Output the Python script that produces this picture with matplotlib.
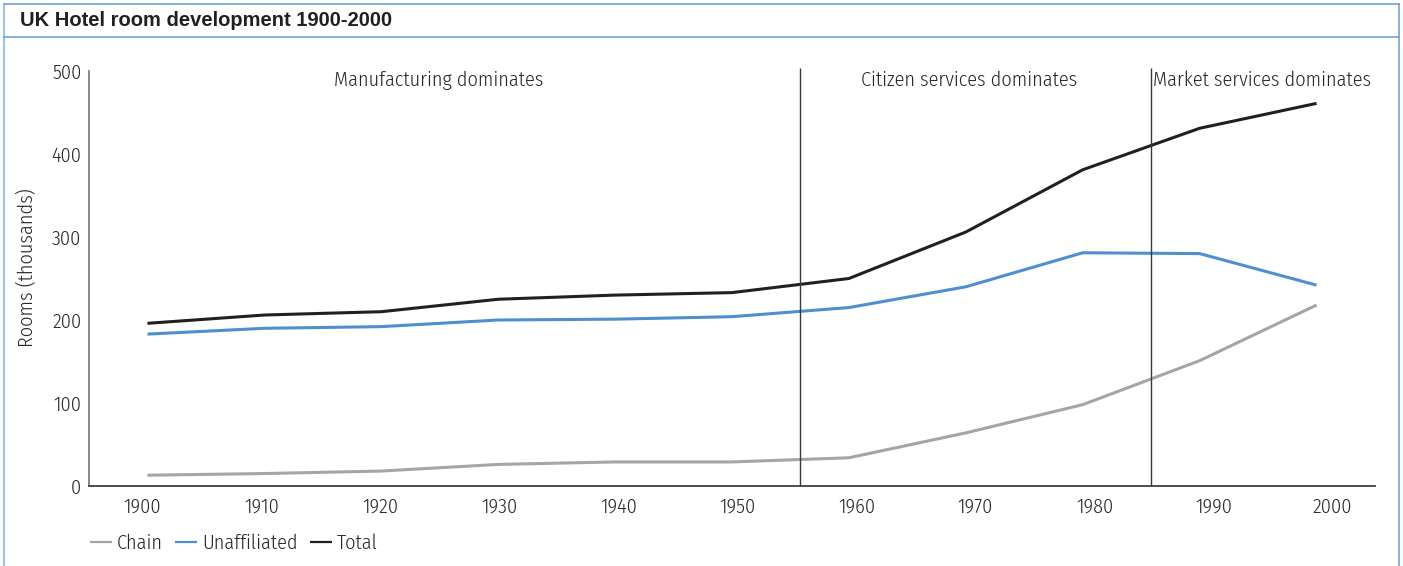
import matplotlib
matplotlib.use("Agg")
import matplotlib.pyplot as plt
from matplotlib.lines import Line2D
from matplotlib import font_manager

years = [1900, 1910, 1920, 1930, 1940, 1950, 1960, 1970, 1980, 1990, 2000]
chain = [13, 15, 18, 26, 29, 29, 34, 64, 98, 151, 218]
unaffiliated = [183, 190, 192, 200, 201, 204, 215, 240, 281, 280, 242]
total = [196, 206, 210, 225, 230, 233, 250, 306, 381, 431, 461]
era_breaks = [1955.8, 1985.8]
era_labels = ["Manufacturing dominates", "Citizen services dominates", "Market services dominates"]
era_label_x = [1924.9, 1970.3, 1995.3]
yticks = [0, 100, 200, 300, 400, 500]
title = "UK Hotel room development 1900-2000"
ylabel = "Rooms (thousands)"


def _w(v):
    if isinstance(v, str):
        return font_manager.weight_dict.get(v, 400)
    return int(v)


faces = {}
for f in font_manager.fontManager.ttflist:
    if f.style == "normal":
        faces.setdefault(f.name, set()).add(_w(f.weight))

prefs = ["Open Sans Condensed", "Fira Sans Condensed", "Roboto Condensed", "Ubuntu Condensed",
         "PT Sans Narrow", "Encode Sans Condensed", "Asap Condensed", "Archivo Narrow",
         "Barlow Semi Condensed", "Liberation Sans"]
main_font, main_weight = "DejaVu Sans", 400
for p in prefs:
    ws = faces.get(p, set())
    light = [w for w in ws if 300 <= w <= 400]
    if light:
        main_font, main_weight = p, min(light)
        break
FONT = [main_font, "DejaVu Sans"]
TXT = "#262626"
W, H = 1403, 566

fig = plt.figure(figsize=(W / 100, H / 100), dpi=100)

# calibrate font size so that the era label width matches the reference (~210 px)
renderer = fig.canvas.get_renderer()
probe = fig.text(0, 0, era_labels[0], fontsize=16, family=FONT, fontweight=main_weight)
wpx = probe.get_window_extent(renderer).width
probe.remove()
FS = 16 * 210.0 / wpx
EM = FS * 100 / 72.0
tk = dict(family=FONT, fontsize=FS, color=TXT, fontweight=main_weight)

ax = fig.add_axes([89 / W, (H - 486) / H, (1375 - 89) / W, (486 - 71) / H])

ax.plot(years, chain, color="#a5a5a5", lw=2.2, label="Chain", solid_capstyle="butt")
ax.plot(years, unaffiliated, color="#4f8fd0", lw=2.2, label="Unaffiliated", solid_capstyle="butt")
ax.plot(years, total, color="#231f20", lw=2.2, label="Total", solid_capstyle="butt")

ax.vlines(era_breaks, 0, 504, color="#3a3a3a", lw=1.0, clip_on=False)
for x, lab in zip(era_label_x, era_labels):
    ax.text(x, 482, lab, ha="center", va="baseline", **tk)

ax.set_xlim(1895, 2005)
ax.set_ylim(0, 500)
ax.set_xticks(years)
ax.set_xticklabels([])
ax.set_yticks(yticks)
ax.set_yticklabels([str(v) for v in yticks], **tk)
ax.tick_params(axis="both", length=0)
ax.tick_params(axis="y", pad=5.5)
for s in ["top", "right"]:
    ax.spines[s].set_visible(False)
ax.spines["left"].set_color("#7f7f7f")
ax.spines["left"].set_linewidth(1.3)
ax.spines["bottom"].set_color("#404040")
ax.spines["bottom"].set_linewidth(1.3)

# category labels sit on a slightly wider scale than the plotted points (as in the source)
axl = ax.twiny()
axl.set_xlim(1895.5, 2003.57)
axl.xaxis.set_ticks_position("bottom")
axl.set_xticks(years)
axl.set_xticklabels([str(y) for y in years], **tk)
axl.tick_params(axis="x", length=0, pad=8)
for s in axl.spines.values():
    s.set_visible(False)

fig.text(27 / W, 1 - 268 / H, ylabel, rotation=90, ha="center", va="center", **tk)

leg = fig.legend(handles=ax.get_lines(), loc="center left", bbox_to_anchor=(90 / W, 1 - 543 / H),
                 ncol=3, frameon=False, prop={"family": FONT, "size": FS, "weight": main_weight},
                 handlelength=22 / EM, handletextpad=5 / EM, columnspacing=12 / EM,
                 borderpad=0, borderaxespad=0)
for t in leg.get_texts():
    t.set_color(TXT)
for l in leg.get_lines():
    l.set_linewidth(1.6)

# frame
bc = "#6fa3d8"
fig.add_artist(Line2D([4 / W, 4 / W], [0, 1 - 4 / H], color="#9dc3e6", lw=1.5))
fig.add_artist(Line2D([1399 / W, 1399 / W], [0, 1 - 4 / H], color=bc, lw=1.2))
fig.add_artist(Line2D([4 / W, 1399 / W], [1 - 4 / H, 1 - 4 / H], color=bc, lw=1.2))
fig.add_artist(Line2D([4 / W, 1399 / W], [1 - 37 / H, 1 - 37 / H], color=bc, lw=1.2))
fig.text(20 / W, 1 - 21 / H, title, ha="left", va="center", fontsize=14.5, fontweight="bold",
         family=["Liberation Sans", "DejaVu Sans"], color="#231f20")

fig.savefig("out.png", dpi=100)
